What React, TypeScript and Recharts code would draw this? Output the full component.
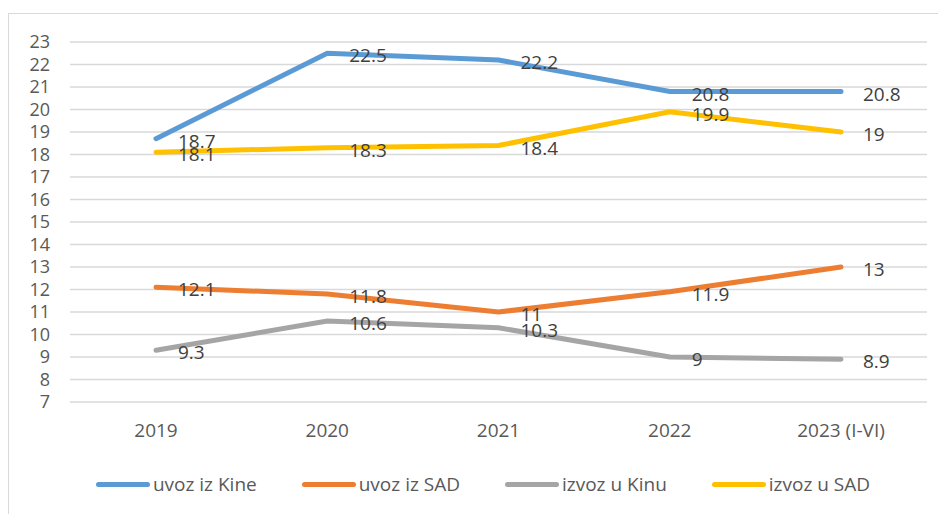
import React from "react";
import { CartesianGrid, Legend, LabelList, Line, LineChart, XAxis, YAxis } from "recharts";

const years = ["2019", "2020", "2021", "2022", "2023 (I-VI)"];
const uvozKina = [18.7, 22.5, 22.2, 20.8, 20.8];
const uvozSad = [12.1, 11.8, 11, 11.9, 13];
const izvozKina = [9.3, 10.6, 10.3, 9, 8.9];
const izvozSad = [18.1, 18.3, 18.4, 19.9, 19];
const yTicks = [7, 8, 9, 10, 11, 12, 13, 14, 15, 16, 17, 18, 19, 20, 21, 22, 23];

const series = [
  { key: "uvozKina", name: "uvoz iz Kine", color: "#5B9BD5" },
  { key: "uvozSad", name: "uvoz iz SAD", color: "#ED7D31" },
  { key: "izvozKina", name: "izvoz u Kinu", color: "#A5A5A5" },
  { key: "izvozSad", name: "izvoz u SAD", color: "#FFC000" },
];

const data = years.map((year, i) => ({
  year,
  uvozKina: uvozKina[i],
  uvozSad: uvozSad[i],
  izvozKina: izvozKina[i],
  izvozSad: izvozSad[i],
}));

const FONT = "'Open Sans', sans-serif";

function ValueLabel(props: any) {
  const { x, y, value } = props;
  return (
    <text x={x + 22} y={y + 4} fill="#404040" fontSize={19} fontFamily={FONT} dominantBaseline="middle">
      {value}
    </text>
  );
}

function LegendContent() {
  return (
    <div style={{ display: "flex", justifyContent: "center", gap: 45, fontFamily: FONT, fontSize: 19, color: "#595959", paddingLeft: 30 }}>
      {series.map((s) => (
        <div key={s.key} style={{ display: "flex", alignItems: "center" }}>
          <span style={{ display: "inline-block", width: 54, height: 5, borderRadius: 3, background: s.color, marginRight: 3 }} />
          <span>{s.name}</span>
        </div>
      ))}
    </div>
  );
}

export default function App() {
  return (
    <div style={{ marginTop: 5, width: 960, height: 520, border: "1px solid #d9d9d9", boxSizing: "border-box" }}>
      <LineChart width={940} height={500} data={data} margin={{ top: 28, right: 22, bottom: 0, left: 0 }}>
        <CartesianGrid vertical={false} stroke="#d9d9d9" strokeWidth={1.5} />
        <XAxis
          dataKey="year"
          axisLine={false}
          tickLine={false}
          tickSize={0}
          tickMargin={22}
          padding={{ left: 86, right: 86 }}
          height={86}
          tick={{ fill: "#595959", fontSize: 19, fontFamily: FONT }}
        />
        <YAxis
          domain={[7, 23]}
          ticks={yTicks}
          interval={0}
          axisLine={false}
          tickLine={false}
          tickSize={0}
          tickMargin={20}
          width={61}
          tick={{ fill: "#595959", fontSize: 18, fontFamily: FONT }}
        />
        <Legend verticalAlign="bottom" content={<LegendContent />} wrapperStyle={{ bottom: 17 }} />
        {series.map((s) => (
          <Line
            key={s.key}
            dataKey={s.key}
            name={s.name}
            stroke={s.color}
            strokeWidth={5}
            dot={false}
            strokeLinecap="round"
            isAnimationActive={false}
          >
            <LabelList dataKey={s.key} content={<ValueLabel />} />
          </Line>
        ))}
      </LineChart>
    </div>
  );
}
